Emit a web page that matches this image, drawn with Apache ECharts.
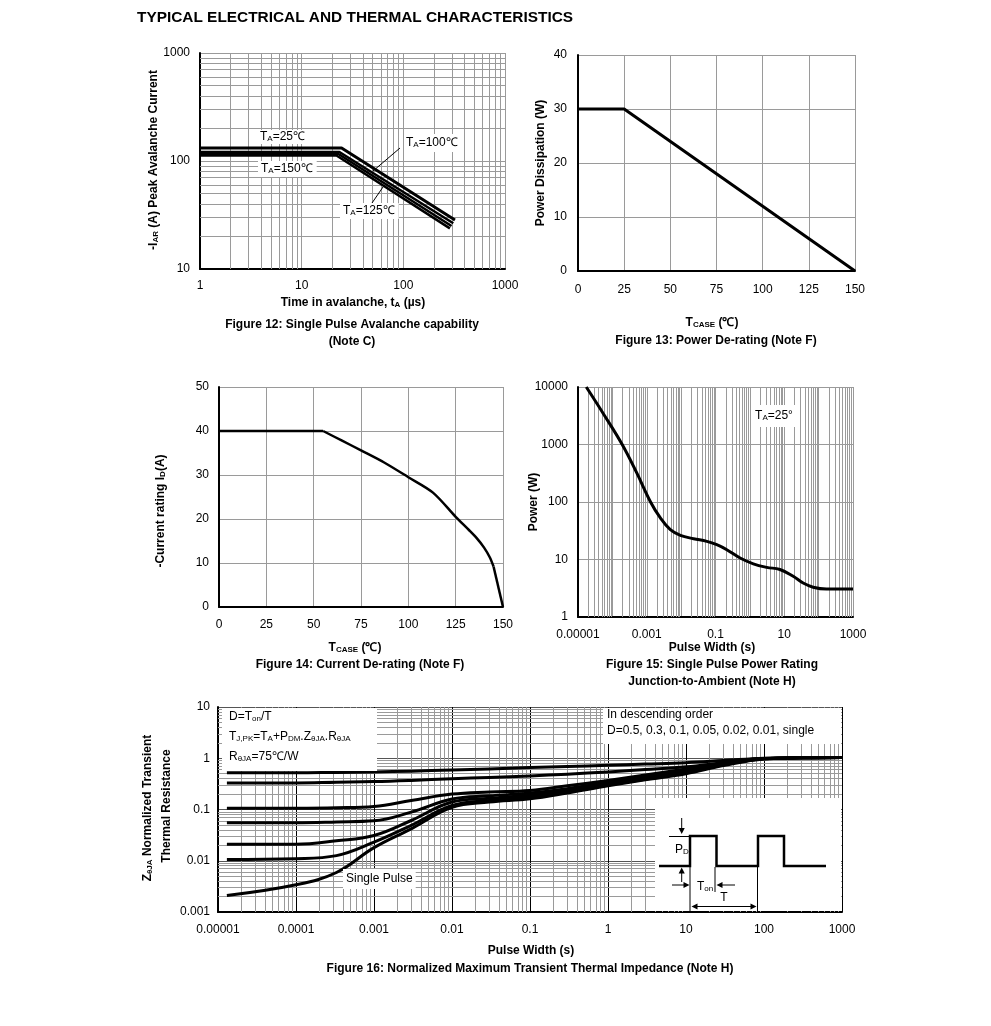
<!DOCTYPE html>
<html><head><meta charset="utf-8">
<script src="https://cdn.jsdelivr.net/npm/echarts@6/dist/echarts.min.js"></script>
<style>html,body{margin:0;padding:0;background:#fff}#c{width:991px;height:1026px}</style>
</head><body><div id="c"></div>
<script>
const FF = '"Liberation Sans", Arial, Helvetica, sans-serif';

// ---------- Figure 12: Single Pulse Avalanche capability ----------
const f12XTicks = ['1', '10', '100', '1000'];
const f12YTicks = ['10', '100', '1000'];
const f12T25 = [1, 24.7, 322];   const f12I25 = [132, 132, 28.4];
const f12T100 = [1, 23.5, 310];  const f12I100 = [121, 121, 26.5];
const f12T125 = [1, 23, 298];    const f12I125 = [116, 116, 25];
const f12T150 = [1, 22, 287];    const f12I150 = [112.5, 112.5, 23.8];

// ---------- Figure 13: Power De-rating ----------
const f13Temp = [0, 25, 150];
const f13Power = [30, 30, 0];

// ---------- Figure 14: Current De-rating ----------
const f14Temp = [0, 55, 65, 75, 87, 100, 113, 125, 132, 136, 140, 143, 145, 150];
const f14Curr = [40, 40, 37.8, 35.6, 32.9, 29.5, 26, 20.5, 17.5, 15.7, 13.5, 11.3, 9.2, 0];

// ---------- Figure 15: Single Pulse Power Rating ----------
const f15XTicks = ['0.00001', '', '0.001', '', '0.1', '', '10', '', '1000'];
const f15YTicks = ['1', '10', '100', '1000', '10000'];
const f15Width = [1.74e-5, 5.7e-5, 1.93e-4, 5e-4, 1.29e-3, 2.49e-3, 4.85e-3, 9.5e-3, 0.023, 0.056, 0.109, 0.213, 0.52, 1.26, 3.1, 7.5, 18.2, 35.5, 69, 169, 1000];
const f15Power = [10000, 3300, 1000, 330, 100, 52.7, 33, 26.3, 23, 20.7, 18.1, 14.8, 10.6, 8.4, 7.3, 6.7, 5.1, 3.9, 3.3, 3.07, 3.07];

// ---------- Figure 16: Normalized Maximum Transient Thermal Impedance ----------
const f16XTicks = ['0.00001', '0.0001', '0.001', '0.01', '0.1', '1', '10', '100', '1000'];
const f16YTicks = ['0.001', '0.01', '0.1', '1', '10'];
const f16Width = [1.3e-5, 1e-4, 3.3e-4, 1e-3, 3e-3, 1e-2, 3e-2, 0.1, 0.3, 1, 3, 10, 30, 100, 300, 1000];
const f16D05 = [0.52, 0.52, 0.53, 0.54, 0.56, 0.59, 0.62, 0.66, 0.69, 0.73, 0.77, 0.82, 0.9, 1.0, 1.02, 1.03];
const f16D03 = [0.33, 0.33, 0.34, 0.35, 0.37, 0.40, 0.42, 0.45, 0.49, 0.54, 0.6, 0.68, 0.82, 0.99, 1.02, 1.03];
const f16D01 = [0.106, 0.106, 0.108, 0.115, 0.15, 0.2, 0.22, 0.236, 0.29, 0.37, 0.47, 0.62, 0.8, 0.99, 1.02, 1.03];
const f16D005 = [0.055, 0.055, 0.057, 0.06, 0.089, 0.16, 0.185, 0.21, 0.255, 0.34, 0.44, 0.58, 0.77, 0.99, 1.02, 1.03];
const f16D002 = [0.021, 0.021, 0.0245, 0.031, 0.061, 0.14, 0.165, 0.19, 0.235, 0.315, 0.41, 0.55, 0.75, 0.98, 1.02, 1.03];
const f16D001 = [0.0106, 0.011, 0.0126, 0.023, 0.049, 0.12, 0.15, 0.175, 0.22, 0.3, 0.39, 0.52, 0.74, 0.98, 1.02, 1.03];
const f16Single = [0.0021, 0.0034, 0.0059, 0.018, 0.042, 0.11, 0.14, 0.162, 0.21, 0.29, 0.38, 0.5, 0.72, 0.97, 1.02, 1.03];

// ---------- helpers ----------
const pairs = (xs, ys) => xs.map((x, i) => [x, ys[i]]);
function minorVals(e0, e1) {
  const out = [];
  for (let e = e0; e < e1; e++) for (let k = 2; k <= 9; k++) out.push(k * Math.pow(10, e));
  return out;
}
function logFmt(labels, e0) {
  return v => { const e = Math.round(Math.log10(v)); const s = labels[e - e0]; return s === undefined ? '' : s; };
}
function axis(gi, pos, extra) {
  return Object.assign({
    gridIndex: gi, position: pos,
    axisLine: { show: true, onZero: false, lineStyle: { color: '#000', width: 2 } },
    axisTick: { show: false },
    axisLabel: { color: '#000', fontFamily: FF, fontSize: 12, margin: 10, showMinLabel: true, showMaxLabel: true },
    splitLine: { show: true, lineStyle: { color: '#9a9a9a', width: 1 } },
    minorTick: { show: false }, minorSplitLine: { show: false }
  }, extra);
}
function logAxis(gi, pos, min, max, labels, e0, extra) {
  const a = axis(gi, pos, { type: 'log', logBase: 10, min: min, max: max });
  a.axisLabel.formatter = logFmt(labels, e0);
  if (extra) {
    if (extra.margin) a.axisLabel.margin = extra.margin;
    if (extra.split) a.splitLine.lineStyle.color = extra.split;
  }
  return a;
}
function gridLines(gi, xs, ys, color) {
  const data = xs.map(v => ({ xAxis: v })).concat(ys.map(v => ({ yAxis: v })));
  return {
    type: 'line', xAxisIndex: gi, yAxisIndex: gi, data: [], z: 1, silent: true,
    markLine: {
      silent: true, symbol: ['none', 'none'], animation: false, precision: 12,
      label: { show: false },
      lineStyle: { type: 'solid', color: color || '#9a9a9a', width: 1 },
      emphasis: { disabled: true },
      data: data
    }
  };
}
function curve(gi, name, data, width, smooth) {
  return {
    type: 'line', name: name, xAxisIndex: gi, yAxisIndex: gi, data: data, z: 5,
    symbol: 'none', showSymbol: false, smooth: smooth || false,
    lineStyle: { color: '#000', width: width || 3, cap: 'butt', join: 'round' }, silent: true, animation: false
  };
}

// text graphics
function rich(w, size) {
  return { s: { fontSize: size || 8, fontFamily: FF, fontWeight: w, fill: '#000', lineHeight: 8, verticalAlign: 'bottom' } };
}
function T(x, y, text, o) {
  o = o || {};
  const w = o.weight || 'normal';
  const st = {
    text: text, fill: '#000', fontFamily: FF, fontSize: o.size || 12, fontWeight: w,
    align: o.align || 'center', verticalAlign: 'middle', rich: rich(w, o.sub)
  };
  if (o.bg) { st.backgroundColor = '#fff'; st.padding = o.pad || [2, 3, 2, 3]; }
  const el = { type: 'text', x: x, y: y, z: 100, silent: true, style: st };
  if (o.rot) el.rotation = o.rot;
  return el;
}
function L(x1, y1, x2, y2, w) {
  return { type: 'line', z: 100, silent: true, shape: { x1: x1, y1: y1, x2: x2, y2: y2 }, style: { stroke: '#000', lineWidth: w || 1 } };
}
function R(x, y, w, h) {
  return { type: 'rect', z: 99, silent: true, shape: { x: x, y: y, width: w, height: h }, style: { fill: '#fff' } };
}
function arrowHead(x, y, dir) {
  const s = 4, h = 6;
  let pts;
  if (dir === 'down') pts = [[x, y], [x - s / 1.3, y - h], [x + s / 1.3, y - h]];
  if (dir === 'up') pts = [[x, y], [x - s / 1.3, y + h], [x + s / 1.3, y + h]];
  if (dir === 'right') pts = [[x, y], [x - h, y - s / 1.3], [x - h, y + s / 1.3]];
  if (dir === 'left') pts = [[x, y], [x + h, y - s / 1.3], [x + h, y + s / 1.3]];
  return { type: 'polygon', z: 101, silent: true, shape: { points: pts }, style: { fill: '#000' } };
}

const B = { weight: 'bold' };
const ROT = Math.PI / 2;

const graphics = [
  T(137, 18, 'TYPICAL ELECTRICAL AND THERMAL CHARACTERISTICS', { weight: 'bold', size: 15.4, align: 'left' }),
  // Figure 12
  T(154, 160, '-I{s|AR} (A) Peak Avalanche Current', { weight: 'bold', rot: ROT }),
  T(353, 303, 'Time in avalanche, t{s|A} (\u00b5s)', B),
  T(352, 325, 'Figure 12: Single Pulse Avalanche capability', B),
  T(352, 342, '(Note C)', B),
  T(258, 137, 'T{s|A}=25\u2103', { align: 'left', bg: true, pad: [1, 2, 1, 2] }),
  T(258, 169, 'T{s|A}=150\u2103', { align: 'left', bg: true, pad: [2, 4, 2, 3] }),
  T(404, 143, 'T{s|A}=100\u2103', { align: 'left', bg: true, pad: [3, 4, 3, 2] }),
  T(340, 211, 'T{s|A}=125\u2103', { align: 'left', bg: true, pad: [2, 4, 2, 3] }),
  L(373, 171, 400, 148), L(383, 187, 372, 203),
  // Figure 13
  T(541, 163, 'Power Dissipation (W)', { weight: 'bold', rot: ROT }),
  T(712, 323, 'T{s|CASE} (\u2103)', B),
  T(716, 341, 'Figure 13: Power De-rating (Note F)', B),
  // Figure 14
  T(161, 511, '-Current rating I{s|D}(A)', { weight: 'bold', rot: ROT }),
  T(355, 648, 'T{s|CASE} (\u2103)', B),
  T(360, 665, 'Figure 14: Current De-rating (Note F)', B),
  // Figure 15
  T(534, 502, 'Power (W)', { weight: 'bold', rot: ROT }),
  T(712, 648, 'Pulse Width (s)', B),
  T(712, 665, 'Figure 15: Single Pulse Power Rating', B),
  T(712, 682, 'Junction-to-Ambient (Note H)', B),
  T(774, 416, 'T{s|A}=25\u00b0', { bg: true, pad: [5, 4, 5, 4] }),
  // Figure 16
  T(148, 808, 'Z{s|\u03b8JA} Normalized Transient', { weight: 'bold', rot: ROT }),
  T(167, 806, 'Thermal Resistance', { weight: 'bold', rot: ROT }),
  T(531, 951, 'Pulse Width (s)', B),
  T(530, 969, 'Figure 16: Normalized Maximum Transient Thermal Impedance (Note H)', B),
  R(222, 708, 155, 63),
  T(229, 717, 'D=T{s|on}/T', { align: 'left' }),
  T(229, 737, 'T{s|J,PK}=T{s|A}+P{s|DM}.Z{s|\u03b8JA}.R{s|\u03b8JA}', { align: 'left' }),
  T(229, 757, 'R{s|\u03b8JA}=75\u2103/W', { align: 'left' }),
  R(603, 708, 238, 36),
  T(607, 715, 'In descending order', { align: 'left' }),
  T(607, 731, 'D=0.5, 0.3, 0.1, 0.05, 0.02, 0.01, single', { align: 'left' }),
  T(343, 879, 'Single Pulse', { align: 'left', bg: true, pad: [4, 3, 4, 3] }),
  R(655, 798, 186, 113),
  { type: 'polyline', z: 101, silent: true,
    shape: { points: [[659, 866], [690, 866], [690, 836], [716.5, 836], [716.5, 866], [758, 866], [758, 836], [784, 836], [784, 866], [826, 866]] },
    style: { stroke: '#000', lineWidth: 2.5, fill: null } },
  L(669, 836.5, 690, 836.5),
  L(681.7, 818, 681.7, 830), arrowHead(681.7, 834, 'down'),
  T(675, 850, 'P{s|D}', { align: 'left' }),
  L(681.7, 882, 681.7, 871), arrowHead(681.7, 867.5, 'up'),
  L(672, 885, 686, 885), arrowHead(689.5, 885, 'right'),
  L(690, 866, 690, 913),
  T(697, 887, 'T{s|on}', { align: 'left' }),
  L(715, 867, 715, 892),
  L(735, 885, 720, 885), arrowHead(716.5, 885, 'left'),
  T(724, 898, 'T', { size: 12 }),
  L(695, 906.5, 753, 906.5), arrowHead(691.5, 906.5, 'left'), arrowHead(756.5, 906.5, 'right'),
  L(757.5, 866, 757.5, 913)
];

const f14Data = pairs(f14Temp, f14Curr);

const option = {
  backgroundColor: '#fff',
  animation: false,
  grid: [
    { left: 200, top: 53, width: 305, height: 216, outerBoundsMode: 'none' },
    { left: 578, top: 55, width: 277, height: 216, outerBoundsMode: 'none' },
    { left: 219, top: 387, width: 284, height: 220, outerBoundsMode: 'none' },
    { left: 578, top: 387, width: 275, height: 230, outerBoundsMode: 'none' },
    { left: 218, top: 707, width: 624, height: 205, outerBoundsMode: 'none' }
  ],
  xAxis: [
    logAxis(0, 'bottom', 1, 1000, f12XTicks, 0, { margin: 11 }),
    axis(1, 'bottom', { type: 'value', min: 0, max: 150, interval: 25, axisLabel: { color: '#000', fontFamily: FF, fontSize: 12, margin: 13 } }),
    axis(2, 'bottom', { type: 'value', min: 0, max: 150, interval: 25, axisLabel: { color: '#000', fontFamily: FF, fontSize: 12, margin: 12 } }),
    logAxis(3, 'bottom', 1e-5, 1000, f15XTicks, -5, { margin: 12 }),
    logAxis(4, 'bottom', 1e-5, 1000, f16XTicks, -5, { margin: 12, split: '#000' })
  ],
  yAxis: [
    logAxis(0, 'left', 10, 1000, f12YTicks, 1, { margin: 10 }),
    axis(1, 'left', { type: 'value', min: 0, max: 40, interval: 10, axisLabel: { color: '#000', fontFamily: FF, fontSize: 12, margin: 11 } }),
    axis(2, 'left', { type: 'value', min: 0, max: 50, interval: 10, axisLabel: { color: '#000', fontFamily: FF, fontSize: 12, margin: 10 } }),
    logAxis(3, 'left', 1, 10000, f15YTicks, 0, { margin: 10 }),
    logAxis(4, 'left', 0.001, 10, f16YTicks, -3, { margin: 8, split: '#555' })
  ],
  series: [
    gridLines(0, minorVals(0, 3), minorVals(1, 3)),
    curve(0, 'TA=25', pairs(f12T25, f12I25), 3),
    curve(0, 'TA=100', pairs(f12T100, f12I100), 2.5),
    curve(0, 'TA=125', pairs(f12T125, f12I125), 2.5),
    curve(0, 'TA=150', pairs(f12T150, f12I150), 2.5),
    curve(1, 'Power', pairs(f13Temp, f13Power), 3),
    curve(2, 'Current', f14Data.slice(0, 2), 2.5),
    curve(2, 'Current', f14Data.slice(1, 13), 2.5, 0.3),
    curve(2, 'Current', f14Data.slice(12), 2.5),
    gridLines(3, minorVals(-5, 3), []),
    curve(3, 'Power', pairs(f15Width, f15Power), 3, 0.4),
    gridLines(4, minorVals(-5, 3), minorVals(-3, 1)),
    curve(4, 'D=0.5', pairs(f16Width, f16D05), 3, 0.4),
    curve(4, 'D=0.3', pairs(f16Width, f16D03), 3, 0.4),
    curve(4, 'D=0.1', pairs(f16Width, f16D01), 3, 0.4),
    curve(4, 'D=0.05', pairs(f16Width, f16D005), 3, 0.4),
    curve(4, 'D=0.02', pairs(f16Width, f16D002), 3, 0.4),
    curve(4, 'D=0.01', pairs(f16Width, f16D001), 3, 0.4),
    curve(4, 'Single Pulse', pairs(f16Width, f16Single), 3, 0.4)
  ],
  graphic: { elements: graphics }
};

const chart = echarts.init(document.getElementById('c'), null, { renderer: 'canvas' });
chart.setOption(option);
</script>
</body></html>
